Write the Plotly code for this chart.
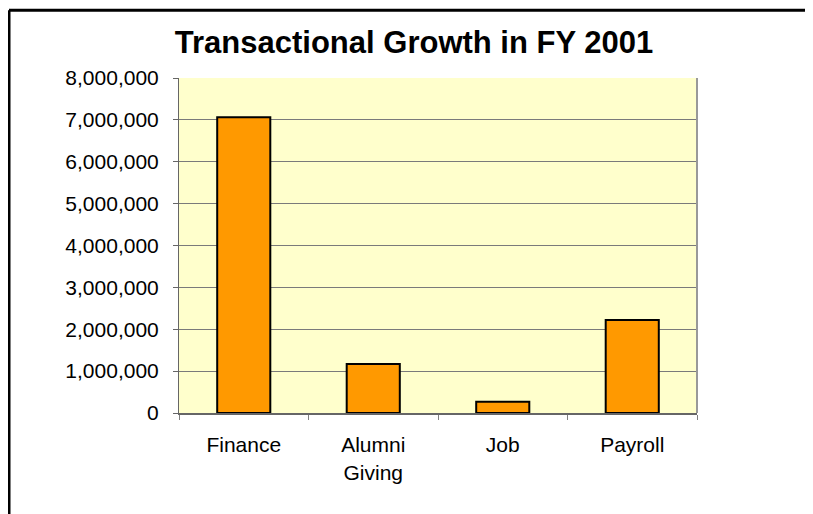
import plotly.graph_objects as go

categories = ["Finance", "Alumni<br>Giving", "Job", "Payroll"]
values = [7060000, 1170000, 270000, 2220000]
y_ticks = [0, 1000000, 2000000, 3000000, 4000000, 5000000, 6000000, 7000000, 8000000]

# page body has an 8px margin, so the figure is sized to fit the window
W, H = 805, 506
L, R, T, B = 171, 116, 69.5, 100.5
pw, ph = W - L - R, H - T - B

fig = go.Figure(go.Bar(
    x=categories, y=values,
    marker=dict(color="#FF9900", line=dict(color="black", width=2)),
))

font = "Arial, Liberation Sans, sans-serif"
fig.update_layout(
    width=W, height=H,
    margin=dict(l=L, r=R, t=T, b=B, pad=0),
    paper_bgcolor="white",
    plot_bgcolor="#FFFFCC",
    bargap=0.59,
    showlegend=False,
    font=dict(family=font, size=21, color="black"),
    title=dict(text="<b>Transactional Growth in FY 2001</b>",
               font=dict(family=font, size=31, color="black"),
               x=406 / W, xanchor="center", y=1 - 34 / H, yanchor="middle"),
)
fig.update_xaxes(
    type="category", tickson="boundaries", ticks="outside", ticklen=5,
    tickcolor="#808080", showline=True, linecolor="#666666", linewidth=2,
    showgrid=False, tickfont=dict(size=21), ticklabelstandoff=12,
)
fig.update_yaxes(
    range=[0, 8000000], tickvals=y_ticks, tickformat=",.0f",
    ticks="outside", ticklen=5, tickcolor="#666666",
    showline=True, linecolor="#666666", linewidth=1,
    showgrid=True, gridcolor="#7a7a7a", gridwidth=1,
    zeroline=False, tickfont=dict(size=21), ticklabelstandoff=10,
)
# right border of plot area
fig.add_shape(type="line", xref="paper", yref="paper", x0=1, x1=1, y0=0, y1=1,
              line=dict(color="#999999", width=2))
# outer chart border (left and top visible)
bx = (1 - L) / pw
by = (T + ph - 1.5) / ph
fig.add_shape(type="line", xref="paper", yref="paper",
              x0=bx, x1=bx, y0=by, y1=-1,
              line=dict(color="black", width=3))
fig.add_shape(type="line", xref="paper", yref="paper",
              x0=bx, x1=2, y0=by, y1=by,
              line=dict(color="black", width=3))

fig.write_html("out.html")
